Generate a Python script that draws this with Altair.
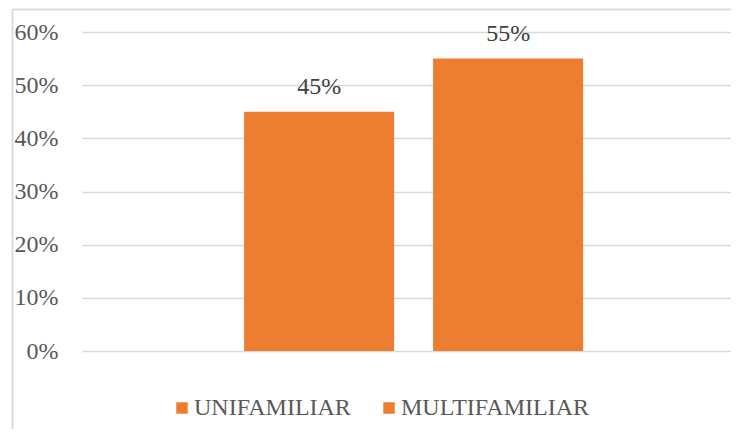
import altair as alt
import pandas as pd

categories = ["UNIFAMILIAR", "MULTIFAMILIAR"]
values = [0.45, 0.55]
labels = ["45%", "55%"]

df = pd.DataFrame({"tipo": categories, "valor": values, "etiqueta": labels})

FONT = "Times New Roman, Liberation Serif, DejaVu Serif, serif"
ORANGE = "#ED7D31"
GRID = "#D9D9D9"
TEXT = "#595959"

base = alt.Chart(df)

bars = base.mark_bar(color=ORANGE).encode(
    x=alt.X("tipo:N", sort=categories, axis=None,
            scale=alt.Scale(paddingInner=0.206, paddingOuter=0.82, align=0.523)),
    y=alt.Y("valor:Q", scale=alt.Scale(domain=[0, 0.6]),
            axis=alt.Axis(format=".0%", values=[0, 0.1, 0.2, 0.3, 0.4, 0.5, 0.6],
                          title=None, domain=False, ticks=False, labelPadding=24,
                          labelFont=FONT, labelFontSize=24, labelColor=TEXT,
                          grid=True, gridColor=GRID, gridWidth=1.3)),
    color=alt.Color("tipo:N", sort=categories,
                    scale=alt.Scale(domain=categories, range=[ORANGE, ORANGE]),
                    legend=alt.Legend(title=None, orient="none", direction="horizontal",
                                      legendX=88, legendY=364,
                                      symbolType="square", symbolSize=132,
                                      symbolStrokeWidth=0, symbolOpacity=1,
                                      labelFont=FONT, labelFontSize=24, labelColor=TEXT,
                                      labelOffset=0, columnPadding=26, labelLimit=400)),
)

text = base.mark_text(font=FONT, fontSize=24, color="#404040", dy=-18, baseline="alphabetic").encode(
    x=alt.X("tipo:N", sort=categories),
    y=alt.Y("valor:Q"),
    text="etiqueta:N",
)

border_left = base.mark_rule(color=GRID, strokeWidth=1.5).encode(
    x=alt.value(-69.5), y=alt.value(-22.5), y2=alt.value(420)
)
border_top = base.mark_rule(color=GRID, strokeWidth=1.5).encode(
    x=alt.value(-69.5), x2=alt.value(700), y=alt.value(-22.5)
)

chart = alt.layer(border_left, border_top, bars, text).properties(
    width=649, height=319,
    autosize=alt.AutoSizeParams(type="none"),
    padding={"left": 74, "top": 24, "right": 0, "bottom": 78},
).configure_view(stroke=None)

chart.save("out.html", embed_options={"renderer": "svg", "actions": False})
